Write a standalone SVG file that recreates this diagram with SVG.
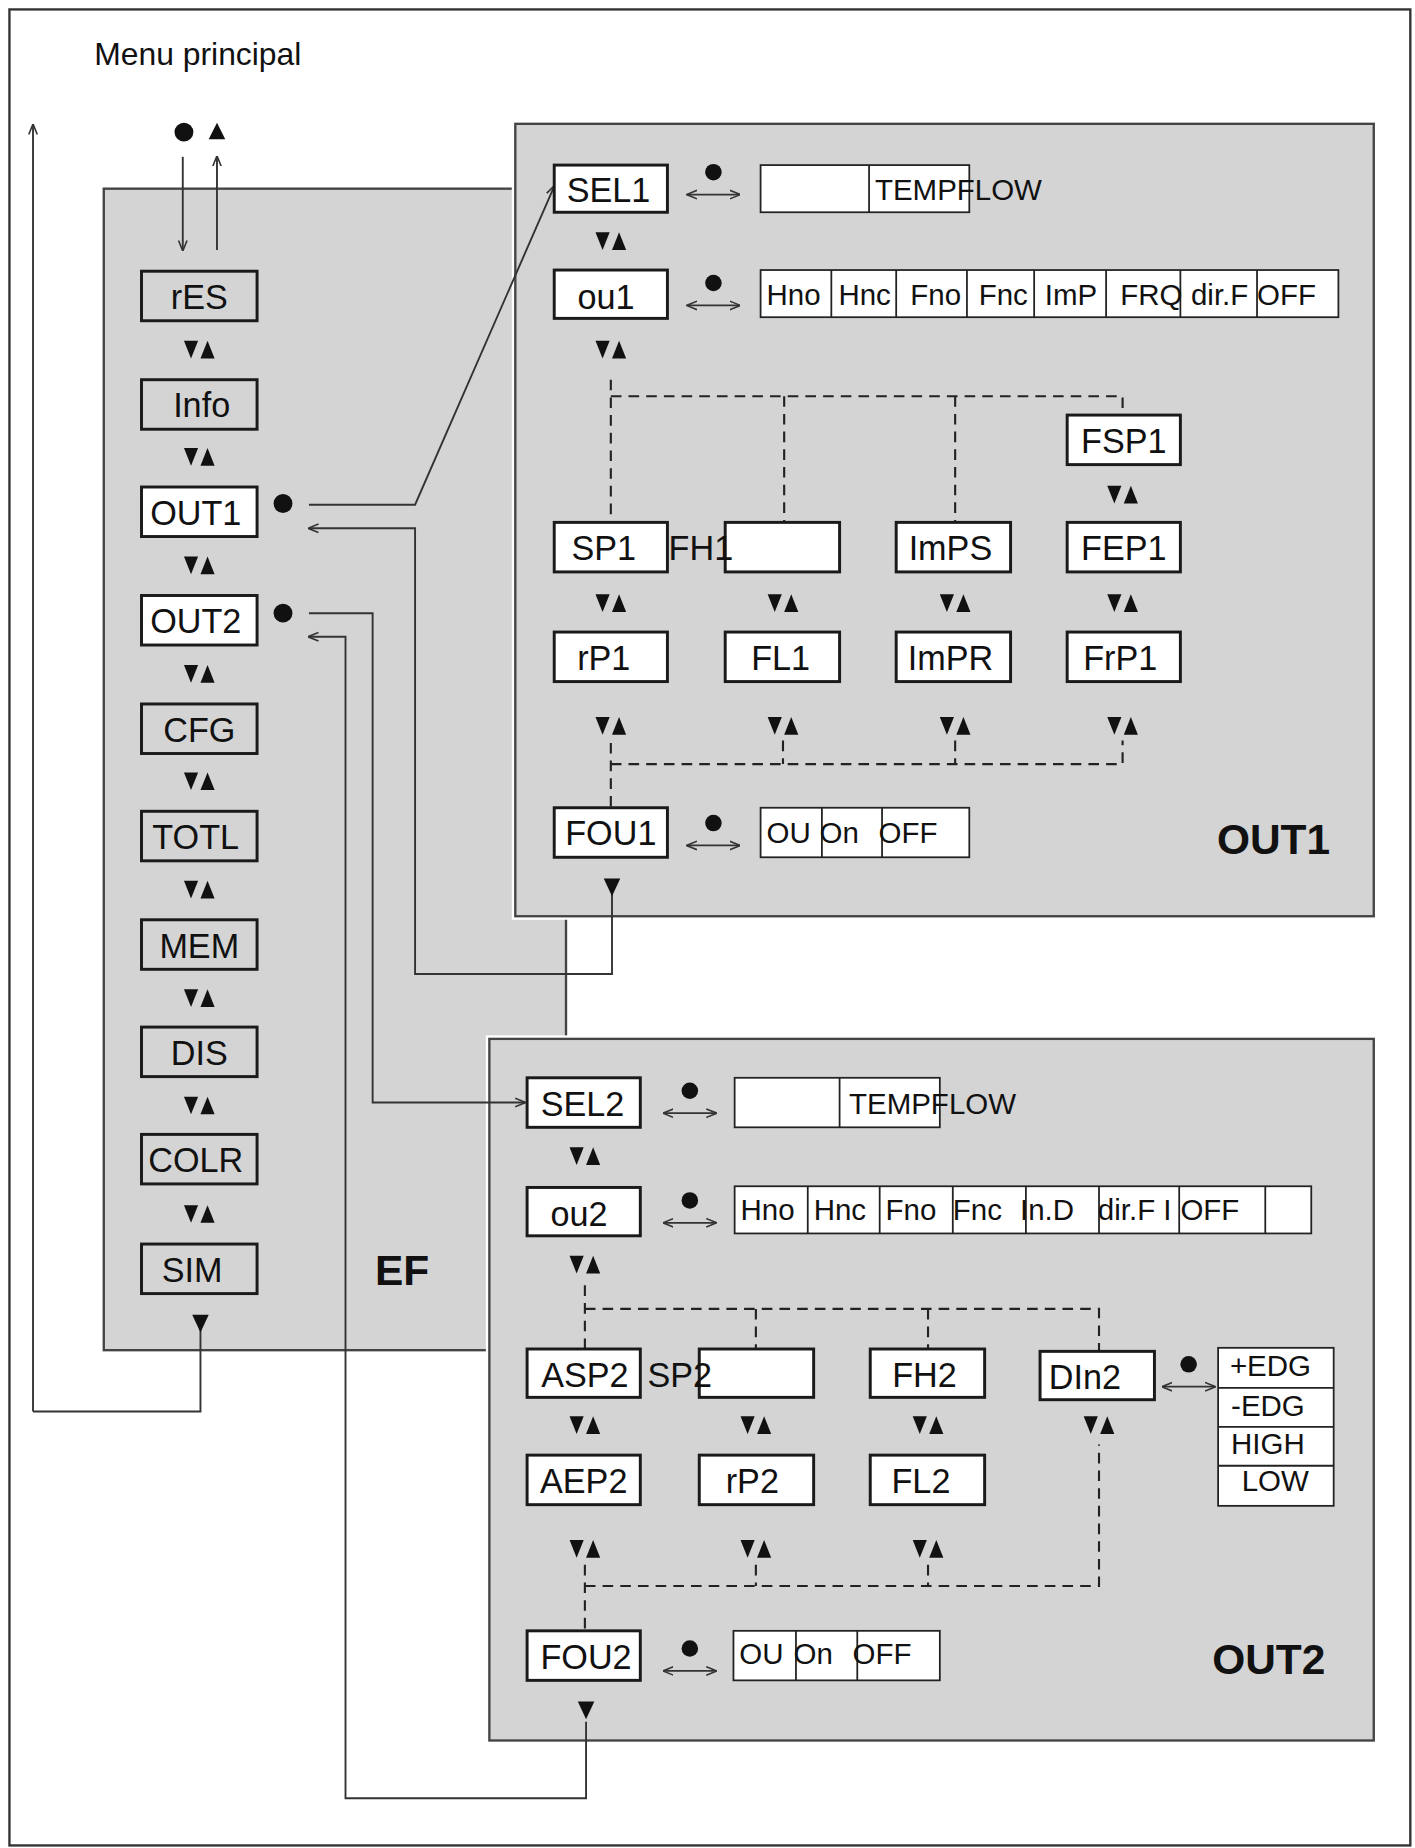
<svg xmlns="http://www.w3.org/2000/svg" xmlns:xlink="http://www.w3.org/1999/xlink" width="1415" height="1848" viewBox="0 0 1415 1848">
<style>
.bx{fill:#fff;stroke:#1a1a1a;stroke-width:2.5}
.gb{fill:#d4d4d4;stroke:#1a1a1a;stroke-width:2.5}
.ob{fill:#fff;stroke:#222;stroke-width:1.5}
.t{font-family:"Liberation Sans",Arial,sans-serif;font-size:29px;fill:#111}
.s{font-family:"Liberation Sans",Arial,sans-serif;font-size:25px;fill:#111}
.big{font-family:"Liberation Sans",Arial,sans-serif;font-size:36px;font-weight:bold;fill:#111}
.ln{fill:none;stroke:#333;stroke-width:1.6}
.ds{fill:none;stroke:#222;stroke-width:1.8;stroke-dasharray:9,6}
.pan{fill:#d4d4d4;stroke:#444;stroke-width:2}
</style>
<defs>
<marker id="ah" viewBox="0 0 10 10" refX="9" refY="5" markerWidth="9" markerHeight="9" orient="auto-start-reverse" markerUnits="userSpaceOnUse"><path d="M0,1 L10,5 L0,9" fill="none" stroke="#333" stroke-width="1.5"/></marker>
<g id="da"><polygon points="-13,-8 -1,-8 -7,7" fill="#111"/><polygon points="1,7 13,7 7,-8" fill="#111"/></g>
<g id="sw"><circle cx="0" cy="0" r="7" fill="#111"/><line x1="-22" y1="19" x2="22" y2="19" stroke="#333" stroke-width="1.5" marker-start="url(#ah)" marker-end="url(#ah)"/></g>
</defs>
<rect width="1415" height="1848" fill="#fff"/>
<g transform="scale(1.1792)">
<rect x="8" y="8" width="1188" height="1557" fill="none" stroke="#333" stroke-width="2"/>
<text x="80" y="55" class="t" style="font-size:27px">Menu principal</text>

<g id="EF">
<rect x="88" y="160" width="392" height="985" class="pan"/>
<text x="318" y="1090" class="big">EF</text>
</g>
<g id="panel-out1">
<rect x="434" y="102" width="734" height="678" fill="#fff"/>
<rect x="437" y="105" width="728" height="672" class="pan"/>
<text x="1032" y="724" class="big">OUT1</text>
</g>
<g id="panel-out2">
<rect x="412" y="878" width="756" height="601" fill="#fff"/>
<rect x="415" y="881" width="750" height="595" class="pan"/>
<text x="1028" y="1420" class="big">OUT2</text>
</g>

<g id="connectors">
<line x1="28" y1="1197" x2="28" y2="106" class="ln" marker-end="url(#ah)"/>
<polyline points="170,1125 170,1197 28,1197" class="ln"/>
<line x1="155" y1="133" x2="155" y2="212" class="ln" marker-end="url(#ah)"/>
<line x1="184" y1="212" x2="184" y2="133" class="ln" marker-end="url(#ah)"/>
<polyline points="262,428 352,428 470,158" class="ln" marker-end="url(#ah)"/>
<polyline points="519,758 519,826 352,826 352,448 262,448" class="ln" marker-end="url(#ah)"/>
<polyline points="262,520 316,520 316,935 445,935" class="ln" marker-end="url(#ah)"/>
<polyline points="497,1460 497,1525 293,1525 293,540 262,540" class="ln" marker-end="url(#ah)"/>
<polyline points="518,322 518,443" class="ds"/>
<polyline points="518,336 952,336 952,352" class="ds"/>
<line x1="665" y1="336" x2="665" y2="443" class="ds"/>
<line x1="810" y1="336" x2="810" y2="443" class="ds"/>
<polyline points="518,630 518,685" class="ds"/>
<polyline points="518,648 952,648 952,628" class="ds"/>
<line x1="664" y1="628" x2="664" y2="648" class="ds"/>
<line x1="810" y1="628" x2="810" y2="648" class="ds"/>
<polyline points="496,1090 496,1144" class="ds"/>
<polyline points="496,1110 932,1110 932,1146" class="ds"/>
<line x1="641" y1="1110" x2="641" y2="1144" class="ds"/>
<line x1="787" y1="1110" x2="787" y2="1144" class="ds"/>
<polyline points="496,1327 496,1383" class="ds"/>
<polyline points="496,1345 932,1345 932,1225" class="ds"/>
<line x1="641" y1="1327" x2="641" y2="1345" class="ds"/>
<line x1="787" y1="1327" x2="787" y2="1345" class="ds"/>
</g>

<circle cx="156" cy="112" r="8" fill="#111"/>
<polygon points="184,104 191,118 177,118" fill="#111"/>

<g id="ef-nodes">
<g id="n-rES"><rect x="120" y="230" width="98" height="42" class="gb"/><text x="169" y="262" class="t" text-anchor="middle">rES</text></g>
<use xlink:href="#da" x="169" y="297"/>
<g id="n-Info"><rect x="120" y="322" width="98" height="42" class="gb"/><text x="171" y="354" class="t" text-anchor="middle">Info</text></g>
<use xlink:href="#da" x="169" y="388"/>
<g id="n-OUT1"><rect x="120" y="413" width="98" height="42" class="bx"/><text x="166" y="445" class="t" text-anchor="middle">OUT1</text><circle cx="240" cy="427" r="8" fill="#111"/></g>
<use xlink:href="#da" x="169" y="480"/>
<g id="n-OUT2"><rect x="120" y="505" width="98" height="42" class="bx"/><text x="166" y="537" class="t" text-anchor="middle">OUT2</text><circle cx="240" cy="520" r="8" fill="#111"/></g>
<use xlink:href="#da" x="169" y="572"/>
<g id="n-CFG"><rect x="120" y="597" width="98" height="42" class="gb"/><text x="169" y="629" class="t" text-anchor="middle">CFG</text></g>
<use xlink:href="#da" x="169" y="663"/>
<g id="n-TOTL"><rect x="120" y="688" width="98" height="42" class="gb"/><text x="166" y="720" class="t" text-anchor="middle">TOTL</text></g>
<use xlink:href="#da" x="169" y="755"/>
<g id="n-MEM"><rect x="120" y="780" width="98" height="42" class="gb"/><text x="169" y="812" class="t" text-anchor="middle">MEM</text></g>
<use xlink:href="#da" x="169" y="847"/>
<g id="n-DIS"><rect x="120" y="871" width="98" height="42" class="gb"/><text x="169" y="903" class="t" text-anchor="middle">DIS</text></g>
<use xlink:href="#da" x="169" y="938"/>
<g id="n-COLR"><rect x="120" y="962" width="98" height="42" class="gb"/><text x="166" y="994" class="t" text-anchor="middle">COLR</text></g>
<use xlink:href="#da" x="169" y="1030"/>
<g id="n-SIM"><rect x="120" y="1055" width="98" height="42" class="gb"/><text x="163" y="1087" class="t" text-anchor="middle">SIM</text></g>
<polygon points="163,1115 177,1115 170,1130" fill="#111"/>
</g>

<g id="out1-nodes">
<g id="n-SEL1"><rect x="470" y="140" width="96" height="40" class="bx"/><text x="516" y="171" class="t" text-anchor="middle">SEL1</text></g>
<use xlink:href="#sw" x="605" y="146"/>
<g id="o-sel1"><rect x="645" y="140" width="177" height="40" class="ob"/><line x1="737" y1="140" x2="737" y2="180" stroke="#222" stroke-width="1.5"/><text x="742" y="170" class="s">TEMPFLOW</text></g>
<use xlink:href="#da" x="518" y="205"/>
<g id="n-ou1"><rect x="470" y="229" width="96" height="41" class="bx"/><text x="514" y="262" class="t" text-anchor="middle">ou1</text></g>
<use xlink:href="#sw" x="605" y="240"/>
<g id="o-ou1"><rect x="645" y="229" width="490" height="40" class="ob"/>
<path d="M705,229V269M760,229V269M820,229V269M877,229V269M938,229V269M1001,229V269M1066,229V269" stroke="#222" stroke-width="1.5"/>
<text y="259" class="s"><tspan x="650">Hno</tspan><tspan x="711">Hnc</tspan><tspan x="772">Fno</tspan><tspan x="830">Fnc</tspan><tspan x="886">ImP</tspan><tspan x="950">FRQ</tspan><tspan x="1010">dir.F</tspan><tspan x="1066">OFF</tspan></text></g>
<use xlink:href="#da" x="518" y="297"/>
<g id="n-FSP1"><rect x="905" y="352" width="96" height="42" class="bx"/><text x="953" y="384" class="t" text-anchor="middle">FSP1</text></g>
<use xlink:href="#da" x="952" y="420"/>
<g id="n-SP1"><rect x="470" y="443" width="96" height="42" class="bx"/><text x="512" y="475" class="t" text-anchor="middle">SP1</text></g>
<g id="n-FH1"><rect x="615" y="443" width="97" height="42" class="bx"/></g>
<text x="567" y="475" class="t">FH1</text>
<g id="n-ImPS"><rect x="760" y="443" width="97" height="42" class="bx"/><text x="806" y="475" class="t" text-anchor="middle">ImPS</text></g>
<g id="n-FEP1"><rect x="905" y="443" width="96" height="42" class="bx"/><text x="953" y="475" class="t" text-anchor="middle">FEP1</text></g>
<use xlink:href="#da" x="518" y="512"/><use xlink:href="#da" x="664" y="512"/><use xlink:href="#da" x="810" y="512"/><use xlink:href="#da" x="952" y="512"/>
<g id="n-rP1"><rect x="470" y="536" width="96" height="42" class="bx"/><text x="512" y="568" class="t" text-anchor="middle">rP1</text></g>
<g id="n-FL1"><rect x="615" y="536" width="97" height="42" class="bx"/><text x="662" y="568" class="t" text-anchor="middle">FL1</text></g>
<g id="n-ImPR"><rect x="760" y="536" width="97" height="42" class="bx"/><text x="806" y="568" class="t" text-anchor="middle">ImPR</text></g>
<g id="n-FrP1"><rect x="905" y="536" width="96" height="42" class="bx"/><text x="950" y="568" class="t" text-anchor="middle">FrP1</text></g>
<use xlink:href="#da" x="518" y="616"/><use xlink:href="#da" x="664" y="616"/><use xlink:href="#da" x="810" y="616"/><use xlink:href="#da" x="952" y="616"/>
<g id="n-FOU1"><rect x="470" y="685" width="96" height="42" class="bx"/><text x="518" y="717" class="t" text-anchor="middle">FOU1</text></g>
<use xlink:href="#sw" x="605" y="698"/>
<g id="o-fou1"><rect x="645" y="685" width="177" height="42" class="ob"/><path d="M697,685V727M748,685V727" stroke="#222" stroke-width="1.5"/>
<text y="715" class="s"><tspan x="650">OU</tspan><tspan x="695">On</tspan><tspan x="745">OFF</tspan></text></g>
<polygon points="512,745 526,745 519,760" fill="#111"/>
</g>

<g id="out2-nodes">
<g id="n-SEL2"><rect x="447" y="914" width="96" height="42" class="bx"/><text x="494" y="946" class="t" text-anchor="middle">SEL2</text></g>
<use xlink:href="#sw" x="585" y="925"/>
<g id="o-sel2"><rect x="623" y="914" width="174" height="42" class="ob"/><line x1="712" y1="914" x2="712" y2="956" stroke="#222" stroke-width="1.5"/><text x="720" y="945" class="s">TEMPFLOW</text></g>
<use xlink:href="#da" x="496" y="981"/>
<g id="n-ou2"><rect x="447" y="1007" width="96" height="41" class="bx"/><text x="491" y="1040" class="t" text-anchor="middle">ou2</text></g>
<use xlink:href="#sw" x="585" y="1018"/>
<g id="o-ou2"><rect x="623" y="1006" width="489" height="40" class="ob"/>
<path d="M685,1006V1046M746,1006V1046M808,1006V1046M870,1006V1046M932,1006V1046M1000,1006V1046M1073,1006V1046" stroke="#222" stroke-width="1.5"/>
<text y="1035" class="s"><tspan x="628">Hno</tspan><tspan x="690">Hnc</tspan><tspan x="751">Fno</tspan><tspan x="808">Fnc</tspan><tspan x="865">In.D</tspan><tspan x="931">dir.F I</tspan><tspan x="1001">OFF</tspan></text></g>
<use xlink:href="#da" x="496" y="1073"/>
<g id="n-ASP2"><rect x="447" y="1144" width="96" height="41" class="bx"/><text x="496" y="1176" class="t" text-anchor="middle">ASP2</text></g>
<g id="n-SP2"><rect x="593" y="1144" width="97" height="41" class="bx"/></g>
<text x="549" y="1176" class="t">SP2</text>
<g id="n-FH2"><rect x="738" y="1144" width="97" height="41" class="bx"/><text x="784" y="1176" class="t" text-anchor="middle">FH2</text></g>
<g id="n-DIn2"><rect x="882" y="1146" width="97" height="41" class="bx"/><text x="920" y="1178" class="t" text-anchor="middle">DIn2</text></g>
<use xlink:href="#sw" x="1008" y="1157"/>
<g id="o-din2"><rect x="1033" y="1143" width="98" height="134" class="ob"/><path d="M1033,1177H1131M1033,1210H1131M1033,1243H1131" stroke="#222" stroke-width="1.5"/>
<text class="s"><tspan x="1043" y="1167">+EDG</tspan><tspan x="1044" y="1201">-EDG</tspan><tspan x="1044" y="1233">HIGH</tspan><tspan x="1053" y="1264">LOW</tspan></text></g>
<use xlink:href="#da" x="496" y="1209"/><use xlink:href="#da" x="641" y="1209"/><use xlink:href="#da" x="787" y="1209"/><use xlink:href="#da" x="932" y="1209"/>
<g id="n-AEP2"><rect x="447" y="1234" width="96" height="42" class="bx"/><text x="495" y="1266" class="t" text-anchor="middle">AEP2</text></g>
<g id="n-rP2"><rect x="593" y="1234" width="97" height="42" class="bx"/><text x="638" y="1266" class="t" text-anchor="middle">rP2</text></g>
<g id="n-FL2"><rect x="738" y="1234" width="97" height="42" class="bx"/><text x="781" y="1266" class="t" text-anchor="middle">FL2</text></g>
<use xlink:href="#da" x="496" y="1314"/><use xlink:href="#da" x="641" y="1314"/><use xlink:href="#da" x="787" y="1314"/>
<g id="n-FOU2"><rect x="447" y="1383" width="96" height="42" class="bx"/><text x="497" y="1415" class="t" text-anchor="middle">FOU2</text></g>
<use xlink:href="#sw" x="585" y="1398"/>
<g id="o-fou2"><rect x="622" y="1383" width="175" height="42" class="ob"/><path d="M675,1383V1425M727,1383V1425" stroke="#222" stroke-width="1.5"/>
<text y="1411" class="s"><tspan x="627">OU</tspan><tspan x="673">On</tspan><tspan x="723">OFF</tspan></text></g>
<polygon points="490,1443 504,1443 497,1458" fill="#111"/>
</g>
</g>
</svg>
